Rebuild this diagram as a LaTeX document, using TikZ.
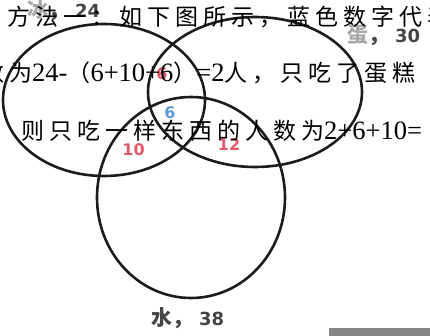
\documentclass[tikz,border=0pt]{standalone}
\usepackage{fontspec}
\setmainfont{Liberation Serif}
\newfontfamily\cjkfont[LetterSpace=21.7]{Noto Sans CJK SC}
\newfontfamily\lblfont{Noto Sans CJK SC}
\newfontfamily\numfont{DejaVu Sans}
\usepackage{tikz}
\usetikzlibrary{shapes.geometric}
\definecolor{ink}     {HTML}{1C1C1C}
\definecolor{numred}  {HTML}{E05A6A}
\definecolor{numblue} {HTML}{5B9BD5}
\definecolor{lblgray} {HTML}{454545}
\definecolor{fadegray}{HTML}{A8A8A8}
\definecolor{bargray} {HTML}{858585}
\newcommand{\zh}[1]{{\cjkfont\fontsize{23}{23}\selectfont #1}}
\newcommand{\setname}[3]{{\lblfont\bfseries\fontsize{21}{21}\selectfont\textcolor{#3}{#1}\textcolor{lblgray}{，}}\hspace{6pt}{\numfont\bfseries\fontsize{18}{18}\selectfont #2}}

\begin{document}
\begin{tikzpicture}[x=1pt, y=-1pt,
    venn/.style={ellipse, draw=ink, line width=2.6pt, inner sep=0pt},
    vennnum/.style={inner sep=0pt, font=\numfont\bfseries\fontsize{16}{16}\selectfont},
    setlbl/.style={anchor=base west, inner sep=0pt, text=lblgray},
    textline/.style={anchor=base west, inner sep=0pt, font=\fontsize{26.5}{26.5}\selectfont}]
  \useasboundingbox (0,0) rectangle (430,336);
  \clip (0,0) rectangle (430,336);
  % the three sets
  \node[venn, minimum width=202pt, minimum height=152pt] (bing) at (104,100) {};
  \node[venn, minimum width=214pt, minimum height=150pt] (dan) at (255,92) {};
  \node[venn, minimum width=188pt, minimum height=201pt] (shui) at (191,197.5) {};
  % counts in the regions
  \node[vennnum, text=numred] (bd) at (162,74) {6};
  \node[vennnum, text=numblue] (all) at (170,112.5) {6};
  \node[vennnum, text=numred] (bs) at (133.5,149.5) {10};
  \node[vennnum, text=numred] (ds) at (229,145) {12};
  % set names
  \node[setlbl] (bingname) at (27,17.5) {\setname{冰}{24}{fadegray}};
  \node[setlbl] (danname) at (347,43) {\setname{蛋}{30}{fadegray}};
  \node[setlbl] (shuiname) at (151,325) {\setname{水}{38}{lblgray}};
  % text lying over the figure
  \node[textline] (line1) at (7,26) {\zh{方法一：如下图所示，蓝色数字代表}};
  \node[textline] (line2) at (-19,81.5) {\zh{数为}24-\zh{（}6+10+6\zh{）}=2\zh{人，只吃了蛋糕}};
  \node[textline] (line3) at (21,139.5) {\zh{则只吃一样东西的人数为}2+6+10=};
  \fill[bargray] (329,328) rectangle (430,336);
\end{tikzpicture}
\end{document}
